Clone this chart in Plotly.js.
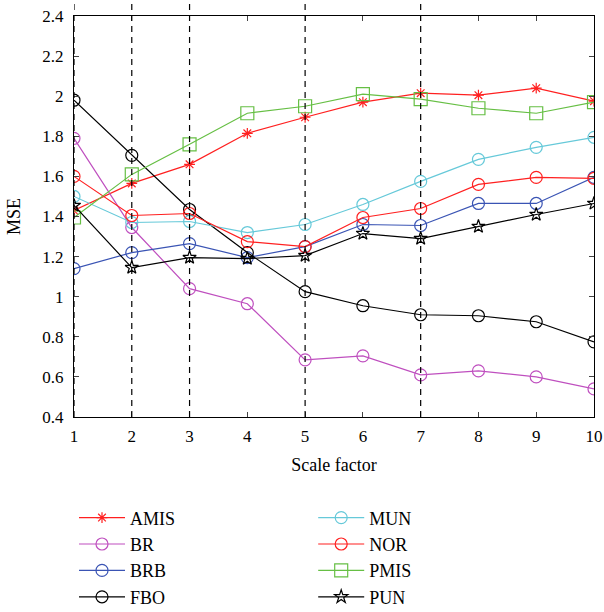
<!DOCTYPE html>
<html>
<head>
<meta charset="utf-8">
<script src="https://cdn.plot.ly/plotly-3.0.1.min.js"></script>
<style>html,body{margin:0;padding:0;background:#fff;}#chart{width:604px;height:612px;}</style>
</head>
<body>
<div id="chart"></div>
<script>
const scaleFactor = [1, 2, 3, 4, 5, 6, 7, 8, 9, 10];
const AMIS = [1.43, 1.565, 1.66, 1.815, 1.895, 1.97, 2.015, 2.005, 2.04, 1.975];
const BR   = [1.79, 1.345, 1.04, 0.965, 0.685, 0.705, 0.61, 0.63, 0.60, 0.54];
const BRB  = [1.14, 1.22, 1.265, 1.195, 1.25, 1.36, 1.355, 1.465, 1.465, 1.595];
const FBO  = [1.98, 1.705, 1.435, 1.22, 1.025, 0.955, 0.91, 0.905, 0.875, 0.775];
const MUN  = [1.50, 1.37, 1.375, 1.32, 1.36, 1.46, 1.575, 1.685, 1.745, 1.795];
const NOR  = [1.60, 1.405, 1.415, 1.275, 1.25, 1.395, 1.44, 1.56, 1.595, 1.59];
const PMIS = [1.395, 1.61, 1.76, 1.915, 1.95, 2.01, 1.985, 1.94, 1.915, 1.97];
const PUN  = [1.455, 1.145, 1.195, 1.19, 1.205, 1.315, 1.29, 1.35, 1.41, 1.465];
const dashedX = [1, 2, 3, 5, 7];
const yTicks = [0.4, 0.6, 0.8, 1, 1.2, 1.4, 1.6, 1.8, 2, 2.2, 2.4];

function tr(name, y, color, symbol, size, legend) {
  return {
    x: scaleFactor, y: y, name: name, type: 'scatter', mode: 'lines+markers',
    line: {color: color, width: 1.2},
    marker: {symbol: symbol, size: size, color: color, line: {color: color, width: 1.2}},
    legend: legend
  };
}

const data = [
  tr('AMIS', AMIS, '#ff2020', 'asterisk-open', 9, 'legend'),
  tr('BR', BR, '#bf4fbf', 'circle-open', 12, 'legend'),
  tr('BRB', BRB, '#3a54b4', 'circle-open', 12, 'legend'),
  tr('FBO', FBO, '#000000', 'circle-open', 12, 'legend'),
  tr('MUN', MUN, '#66c9d9', 'circle-open', 12, 'legend2'),
  tr('NOR', NOR, '#ff2020', 'circle-open', 12, 'legend2'),
  tr('PMIS', PMIS, '#66bf44', 'square-open', 13, 'legend2'),
  tr('PUN', PUN, '#000000', 'star-open', 10, 'legend2')
];

const shapes = dashedX.map(v => ({
  type: 'line', xref: 'x', yref: 'paper', x0: v, x1: v, y0: 0, y1: 1.04,
  line: {color: '#000', width: 1.2, dash: '6px,5px'}, layer: 'above'
}));

const font = {family: '"Liberation Serif", "DejaVu Serif", serif', color: '#000', size: 16};

const legendBase = {yref: 'container', y: 0.184, xanchor: 'left', yanchor: 'top', orientation: 'v',
  font: {size: 18}, bgcolor: 'rgba(0,0,0,0)', tracegroupgap: 0, itemwidth: 46};

const layout = {
  width: 604, height: 612,
  margin: {l: 74, r: 10, t: 16, b: 195},
  paper_bgcolor: '#fff', plot_bgcolor: '#fff',
  font: font,
  showlegend: true,
  xaxis: {
    range: [1, 10], tickvals: scaleFactor, ticks: 'inside', ticklen: 5,
    showline: true, linecolor: '#000', linewidth: 1, mirror: 'ticks',
    showgrid: false, zeroline: false, automargin: false, ticklabelstandoff: 4,
    title: {text: 'Scale factor', font: {size: 18}, standoff: 12},
    tickfont: {size: 17}
  },
  yaxis: {
    range: [0.4, 2.4], tickvals: yTicks, ticks: 'inside', ticklen: 5,
    showline: true, linecolor: '#000', linewidth: 1, mirror: 'ticks',
    showgrid: false, zeroline: false, automargin: false, ticklabelstandoff: 6,
    title: {text: 'MSE', font: {size: 18}, standoff: 17},
    tickfont: {size: 17}
  },
  shapes: shapes,
  legend: Object.assign({}, legendBase, {x: 0.0}),
  legend2: Object.assign({}, legendBase, {x: 0.46})
};

Plotly.newPlot('chart', data, layout, {displayModeBar: false, staticPlot: true});
</script>
</body>
</html>
